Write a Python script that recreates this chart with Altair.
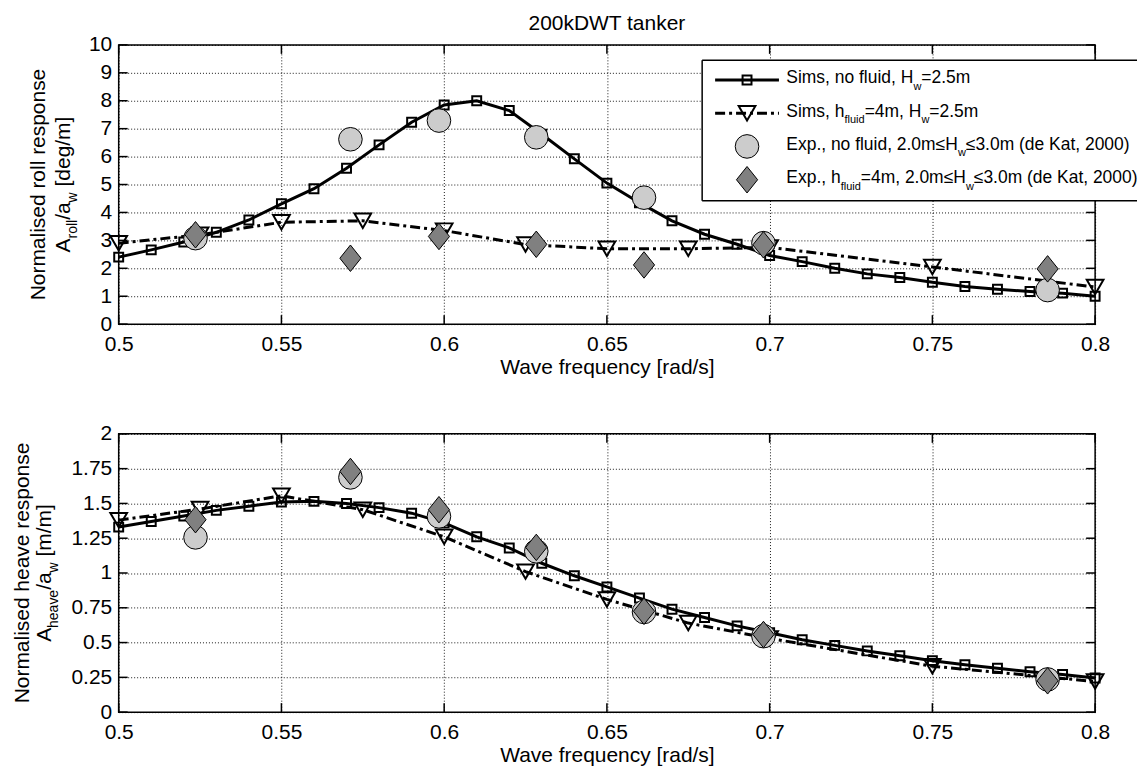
import altair as alt
import pandas as pd

# ---------------- data ----------------
sim_f = [0.50, 0.51, 0.52, 0.53, 0.54, 0.55, 0.56, 0.57, 0.58, 0.59, 0.60,
         0.61, 0.62, 0.63, 0.64, 0.65, 0.66, 0.67, 0.68, 0.69, 0.70,
         0.71, 0.72, 0.73, 0.74, 0.75, 0.76, 0.77, 0.78, 0.79, 0.80]
roll_sim_nofluid = [2.40, 2.66, 2.94, 3.29, 3.73, 4.31, 4.85, 5.58, 6.42, 7.23, 7.85,
                    8.00, 7.65, 6.80, 5.92, 5.05, 4.35, 3.70, 3.22, 2.86, 2.46,
                    2.24, 2.00, 1.80, 1.67, 1.50, 1.35, 1.25, 1.17, 1.11, 1.00]
heave_sim_nofluid = [1.33, 1.37, 1.41, 1.45, 1.48, 1.51, 1.515, 1.50, 1.47, 1.43, 1.36,
                     1.26, 1.18, 1.07, 0.98, 0.90, 0.82, 0.74, 0.68, 0.62, 0.57,
                     0.52, 0.48, 0.44, 0.405, 0.37, 0.34, 0.315, 0.29, 0.27, 0.245]

sim2_f = [0.500, 0.525, 0.550, 0.575, 0.600, 0.625, 0.650, 0.675, 0.700, 0.750, 0.800]
roll_sim_fluid = [2.90, 3.20, 3.65, 3.70, 3.35, 2.85, 2.70, 2.70, 2.75, 2.05, 1.33]
heave_sim_fluid = [1.38, 1.46, 1.555, 1.455, 1.26, 1.01, 0.81, 0.64, 0.53, 0.33, 0.22]

exp_f = [0.5236, 0.5712, 0.5984, 0.6283, 0.6614, 0.6981, 0.7854]
roll_exp_nofluid = [3.08, 6.62, 7.29, 6.69, 4.53, 2.90, 1.22]
roll_exp_fluid = [3.20, 2.36, 3.14, 2.86, 2.12, 2.84, 1.98]
heave_exp_nofluid = [1.256, 1.687, 1.407, 1.156, 0.720, 0.546, 0.235]
heave_exp_fluid = [1.383, 1.730, 1.455, 1.184, 0.725, 0.558, 0.225]

x_ticks = [0.5, 0.55, 0.6, 0.65, 0.7, 0.75, 0.8]
roll_ticks = [0, 1, 2, 3, 4, 5, 6, 7, 8, 9, 10]
heave_ticks = [0, 0.25, 0.5, 0.75, 1, 1.25, 1.5, 1.75, 2]

chart_title = "200kDWT tanker"
x_title = "Wave frequency [rad/s]"
legend_rows = [
    [("Sims, no fluid, H", 0), ("w", 1), ("=2.5m", 0)],
    [("Sims, h", 0), ("fluid", 1), ("=4m, H", 0), ("w", 1), ("=2.5m", 0)],
    [("Exp., no fluid, 2.0m\u2264H", 0), ("w", 1), ("\u22643.0m (de Kat, 2000)", 0)],
    [("Exp., h", 0), ("fluid", 1), ("=4m, 2.0m\u2264H", 0), ("w", 1), ("\u22643.0m (de Kat, 2000)", 0)],
]
roll_ytitle1 = "Normalised roll response"
roll_ytitle2 = [("A", 0), ("roll", 1), ("/a", 0), ("w", 1), (" [deg/m]", 0)]
heave_ytitle1 = "Normalised heave response"
heave_ytitle2 = [("A", 0), ("heave", 1), ("/a", 0), ("w", 1), (" [m/m]", 0)]

# ---------------- styling / layout ----------------
FONT = "Liberation Sans"
W = 979
H_TOP = 280
H_BOT = 279
FS = 21
CIRCLE_FILL = "#cccccc"
DIAMOND_FILL = "#808080"
DIAMOND = "M0,-1.25L1,0L0,1.25L-1,0Z"
DASHDOT = [10, 4, 3, 4]
LW = 3
SQ_SIZE = 80
TRI_SIZE = 280
CIRC_SIZE = 560
DIA_SIZE = 450

ADV = {' ': 278, ',': 278, '.': 278, '=': 584, '(': 333, ')': 333, '[': 278, ']': 278,
       '/': 278, '\u2264': 549, '0': 556, '1': 556, '2': 556, '3': 556, '4': 556,
       '5': 556, 'A': 667, 'D': 722, 'E': 667, 'H': 722, 'K': 667, 'N': 722, 'S': 667,
       'T': 611, 'W': 944, 'a': 556, 'c': 500, 'd': 556, 'e': 556, 'f': 278, 'g': 556,
       'h': 556, 'i': 222, 'k': 500, 'l': 222, 'm': 833, 'n': 556, 'o': 556, 'p': 556,
       'q': 556, 'r': 333, 's': 500, 't': 278, 'u': 556, 'v': 500, 'w': 722, 'x': 500,
       'y': 500}


def tw(s, size):
    return sum(ADV.get(c, 556) for c in s) / 1000.0 * size


one = pd.DataFrame({"k": [0]})


def rich_text(pieces, x0, y0, main, sub, sub_dy, rotated=False):
    layers = []
    cum = 0.0
    for txt, is_sub in pieces:
        fs = sub if is_sub else main
        off = sub_dy if is_sub else 0
        lead = len(txt) - len(txt.lstrip(" "))
        cum += tw(" " * lead, fs)  # SVG collapses leading spaces, so advance manually
        body = txt.lstrip(" ")
        if rotated:
            px, py = x0 + off, y0 - cum
        else:
            px, py = x0 + cum, y0 + off
        layers.append(
            alt.Chart(one).mark_text(text=body, font=FONT, fontSize=fs, align="left",
                                     baseline="alphabetic", angle=270 if rotated else 0,
                                     color="black")
            .encode(x=alt.value(px), y=alt.value(py))
        )
        cum += tw(body, fs)
    return layers, cum


def rich_width(pieces, main, sub):
    return sum(tw(t, sub if s else main) for t, s in pieces)


def panel(H, ydom, yticks, sq_v, tri_v, circ_v, dia_v, yt1, yt2, yt1_x, yt2_x,
          with_legend=False, with_title=False):
    xs = alt.Scale(domain=[0.5, 0.8], nice=False, zero=False)
    ys = alt.Scale(domain=ydom, nice=False, zero=False)
    xa = alt.Axis(values=x_ticks, title=x_title, grid=True, labelFlush=False,
                  labelOverlap=False, labelExpr="format(datum.value, '~g')")
    ya = alt.Axis(values=yticks, title=None, grid=True, labelOverlap=False,
                  labelExpr="format(datum.value, '~g')")
    X = alt.X("f:Q", scale=xs, axis=xa)
    Y = alt.Y("v:Q", scale=ys, axis=ya)

    d_sq = pd.DataFrame({"f": sim_f, "v": sq_v})
    d_tri = pd.DataFrame({"f": sim2_f, "v": tri_v})
    d_c = pd.DataFrame({"f": exp_f, "v": circ_v})
    d_d = pd.DataFrame({"f": exp_f, "v": dia_v})
    d_xt = pd.DataFrame({"f": x_ticks})
    d_yt = pd.DataFrame({"v": yticks})

    layers = [
        alt.Chart(d_sq).mark_line(color="black", strokeWidth=LW).encode(x=X, y=Y),
        alt.Chart(d_sq).mark_point(shape="square", size=SQ_SIZE, filled=False, color="black",
                                   strokeWidth=2, opacity=1).encode(x=X, y=Y),
        alt.Chart(d_tri).mark_line(color="black", strokeWidth=LW, strokeDash=DASHDOT).encode(x=X, y=Y),
        alt.Chart(d_tri).mark_point(shape="triangle-down", size=TRI_SIZE, filled=False, color="black",
                                    strokeWidth=2, opacity=1).encode(x=X, y=Y),
        alt.Chart(d_c).mark_point(shape="circle", size=CIRC_SIZE, filled=True, fill=CIRCLE_FILL,
                                  stroke="black", strokeWidth=1, opacity=1).encode(x=X, y=Y),
        alt.Chart(d_d).mark_point(shape=DIAMOND, size=DIA_SIZE, filled=True, fill=DIAMOND_FILL,
                                  stroke="black", strokeWidth=1, opacity=1).encode(x=X, y=Y),
        # inward ticks (MATLAB style) on all four sides
        alt.Chart(d_xt).mark_rule(color="black", strokeWidth=1.5).encode(
            x=X, y=alt.value(0), y2=alt.value(9)),
        alt.Chart(d_xt).mark_rule(color="black", strokeWidth=1.5).encode(
            x=X, y=alt.value(H - 9), y2=alt.value(H)),
        alt.Chart(d_yt).mark_rule(color="black", strokeWidth=1.5).encode(
            y=Y, x=alt.value(0), x2=alt.value(9)),
        alt.Chart(d_yt).mark_rule(color="black", strokeWidth=1.5).encode(
            y=Y, x=alt.value(W - 9), x2=alt.value(W)),
    ]

    # y-axis title (two lines, second with subscripts)
    layers.append(
        alt.Chart(one).mark_text(text=yt1, font=FONT, fontSize=FS, angle=270, align="center",
                                 baseline="alphabetic", color="black")
        .encode(x=alt.value(yt1_x), y=alt.value(H / 2))
    )
    tot = rich_width(yt2, FS, 14)
    l2, _ = rich_text(yt2, yt2_x, H / 2 + tot / 2, FS, 14, 7, rotated=True)
    layers += l2

    if with_title:
        layers.append(
            alt.Chart(one).mark_text(text=chart_title, font=FONT, fontSize=FS, align="center",
                                     baseline="alphabetic", color="black")
            .encode(x=alt.value(W / 2), y=alt.value(-14.7))
        )

    if with_legend:
        L, R, T, B = 585, 1021, 15.3, 156.3
        layers += [
            alt.Chart(one).mark_rect(fill="white").encode(
                x=alt.value(L), x2=alt.value(R), y=alt.value(T), y2=alt.value(B)),
            alt.Chart(one).mark_rule(color="black", strokeWidth=1.5).encode(
                x=alt.value(L), x2=alt.value(R), y=alt.value(T)),
            alt.Chart(one).mark_rule(color="black", strokeWidth=1.5).encode(
                x=alt.value(L), x2=alt.value(R), y=alt.value(B)),
            alt.Chart(one).mark_rule(color="black", strokeWidth=1.5).encode(
                x=alt.value(L), y=alt.value(T), y2=alt.value(B)),
        ]
        baselines = [38.7, 72.0, 105.3, 138.7]
        sx0, sx1, sxm = 598, 662, 630
        cy = [b - 3.5 for b in baselines]
        layers += [
            alt.Chart(one).mark_rule(color="black", strokeWidth=LW).encode(
                x=alt.value(sx0), x2=alt.value(sx1), y=alt.value(cy[0])),
            alt.Chart(one).mark_point(shape="square", size=SQ_SIZE, filled=False, color="black",
                                      strokeWidth=2, opacity=1).encode(
                x=alt.value(sxm), y=alt.value(cy[0])),
            alt.Chart(one).mark_rule(color="black", strokeWidth=LW, strokeDash=DASHDOT).encode(
                x=alt.value(sx0), x2=alt.value(sx1), y=alt.value(cy[1])),
            alt.Chart(one).mark_point(shape="triangle-down", size=TRI_SIZE, filled=False, color="black",
                                      strokeWidth=2, opacity=1).encode(
                x=alt.value(sxm), y=alt.value(cy[1])),
            alt.Chart(one).mark_point(shape="circle", size=CIRC_SIZE, filled=True, fill=CIRCLE_FILL,
                                      stroke="black", strokeWidth=1, opacity=1).encode(
                x=alt.value(sxm), y=alt.value(cy[2])),
            alt.Chart(one).mark_point(shape=DIAMOND, size=DIA_SIZE, filled=True, fill=DIAMOND_FILL,
                                      stroke="black", strokeWidth=1, opacity=1).encode(
                x=alt.value(sxm), y=alt.value(cy[3])),
        ]
        for row, b in zip(legend_rows, baselines):
            lr, _ = rich_text(row, 669.4, b, 17.5, 11, 6.5)
            layers += lr

    return alt.layer(*layers).properties(width=W, height=H)


top = panel(H_TOP, [0, 10], roll_ticks, roll_sim_nofluid, roll_sim_fluid,
            roll_exp_nofluid, roll_exp_fluid, roll_ytitle1, roll_ytitle2, -74, -49,
            with_legend=True, with_title=True)
bottom = panel(H_BOT, [0, 2], heave_ticks, heave_sim_nofluid, heave_sim_fluid,
               heave_exp_nofluid, heave_exp_fluid, heave_ytitle1, heave_ytitle2, -90.3, -68,
               with_legend=False, with_title=False)

chart = (
    alt.vconcat(top, bottom, spacing=44)
    .properties(padding={"left": 10, "top": 11, "right": 0, "bottom": 0}, background="white")
    .configure_view(stroke="black", strokeWidth=1.5)
    .configure_axis(domain=False, ticks=False, tickSize=0, grid=True, gridColor="black",
                    gridDash=[1, 2], gridWidth=1, gridOpacity=0.9,
                    labelFont=FONT, labelFontSize=FS, labelColor="black",
                    titleFont=FONT, titleFontSize=FS, titleFontWeight="normal",
                    titleColor="black")
    .configure_axisX(labelPadding=9, titlePadding=2)
    .configure_axisY(labelPadding=7)
)

chart.save("out.html", embed_options={"renderer": "svg", "actions": False})
